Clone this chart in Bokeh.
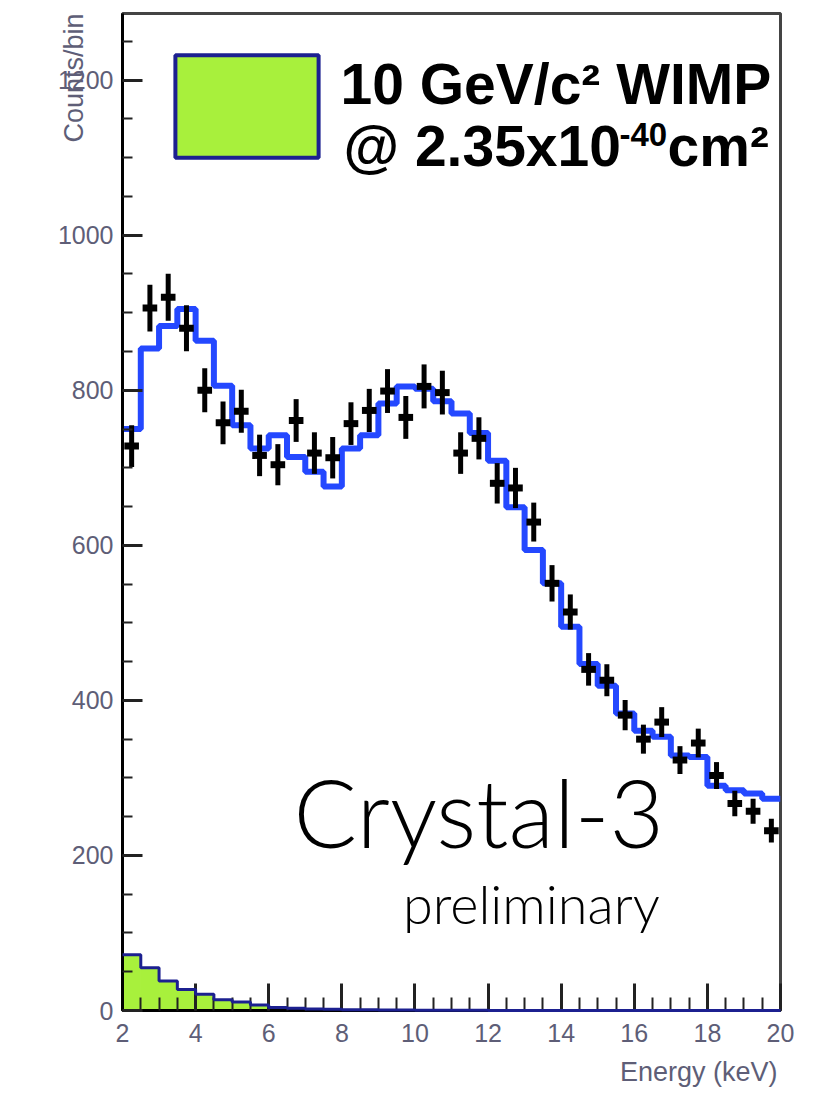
import numpy as np
from bokeh.plotting import figure
from bokeh.models import (Range1d, FixedTicker, Label, Legend, LegendItem,
                          ColumnDataSource, Title)
from bokeh.embed import file_html
from bokeh.resources import INLINE

# ---------------- data ----------------
e_lo, e_hi, bin_w = 2.0, 20.0, 0.5

# measured counts per 0.5 keV bin (2.0-20.0 keV)
counts = [728, 906, 920, 880, 800, 758, 773, 716, 704, 761, 719, 713,
          757, 774, 799, 765, 805, 797, 719, 738, 680, 674, 630, 551,
          514, 440, 426, 381, 350, 372, 323, 345, 303, 267, 257, 232]

# background model (blue histogram)
model = [750, 854, 883, 905, 864, 806, 755, 725, 742, 714, 695, 676,
         725, 742, 783, 805, 802, 786, 770, 745, 709, 649, 594, 551,
         495, 447, 419, 383, 361, 353, 329, 327, 290, 284, 280, 273]

# 10 GeV WIMP signal (green histogram)
wimp = [72, 55, 38, 27, 21, 14, 11, 7, 4, 3, 2, 1.5,
        1, 1, 0.5, 0.5, 0.3, 0.3, 0.2, 0.2, 0.1, 0.1, 0.1, 0.1,
        0, 0, 0, 0, 0, 0, 0, 0, 0, 0, 0, 0]

x_major = [2, 4, 6, 8, 10, 12, 14, 16, 18, 20]
y_major = [0, 200, 400, 600, 800, 1000, 1200]
y_top = 1286

legend_line1 = "10 GeV/c\u00b2 WIMP"
legend_line2 = ["@ 2.35x10", "-40", "cm\u00b2"]

# ---------------- derived ----------------
edges = np.arange(e_lo, e_hi + bin_w / 2, bin_w)
centers = edges[:-1] + bin_w / 2
cnt = np.array(counts, dtype=float)
err = np.sqrt(cnt)
model_ext = list(model) + [model[-1]]
wimp_ext = list(wimp) + [wimp[-1]]

GREEN = "#a8f03c"
NAVY = "#1c2090"
BLUE = "#2448ff"
GREY = "#5e5e77"

p = figure(width=805, height=1097,
           x_range=Range1d(e_lo, e_hi), y_range=Range1d(0, y_top),
           output_backend="svg", toolbar_location=None,
           min_border_left=122, min_border_right=25,
           min_border_top=13, min_border_bottom=87)

p.xgrid.visible = False
p.ygrid.visible = False
p.outline_line_color = "#444444"
p.outline_line_width = 3
p.background_fill_color = "white"
p.border_fill_color = "white"

# WIMP signal fill + outline
p.quad(left=edges[:-1], right=edges[1:], bottom=0, top=wimp,
       fill_color=GREEN, line_color=GREEN, line_width=1)
p.step(x=edges, y=wimp_ext, mode="after", line_color=NAVY, line_width=3, level="overlay")

# background model
p.step(x=edges, y=model_ext, mode="after", line_color=BLUE, line_width=6)

# data points with errors
p.segment(x0=centers, y0=cnt - err, x1=centers, y1=cnt + err,
          line_color="black", line_width=5)
p.segment(x0=centers - 0.2, y0=cnt, x1=centers + 0.2, y1=cnt,
          line_color="black", line_width=7)

# legend swatch (Bokeh insets the glyph by 10% of the glyph box)
leg_src = ColumnDataSource(dict(left=[0], right=[0], top=[0], bottom=[0]))
r_leg = p.quad(left="left", right="right", top="top", bottom="bottom", source=leg_src,
               fill_color=GREEN, line_color=NAVY, line_width=4)
legend = Legend(items=[LegendItem(label=" ", renderers=[r_leg])],
                location=(35, 840), glyph_width=179, glyph_height=128,
                label_text_font_size="10px", label_standoff=0,
                padding=0, margin=0, spacing=0,
                border_line_alpha=0, background_fill_alpha=0)
p.add_layout(legend)

# legend text (Helvetica-bold like), anchored at the frame's top-left corner
FONT_B = "Liberation Sans"
p.add_layout(Label(x=e_lo, y=y_top, x_offset=218, y_offset=-70, text=legend_line1,
                   text_baseline="middle", text_font=FONT_B, text_font_style="bold",
                   text_font_size="57px", text_color="black"))
p.add_layout(Label(x=e_lo, y=y_top, x_offset=221, y_offset=-132, text=legend_line2[0],
                   text_baseline="middle", text_font=FONT_B, text_font_style="bold",
                   text_font_size="57px", text_color="black"))
p.add_layout(Label(x=e_lo, y=y_top, x_offset=497, y_offset=-121, text=legend_line2[1],
                   text_baseline="middle", text_font=FONT_B, text_font_style="bold",
                   text_font_size="33px", text_color="black"))
p.add_layout(Label(x=e_lo, y=y_top, x_offset=545, y_offset=-132, text=legend_line2[2],
                   text_baseline="middle", text_font=FONT_B, text_font_style="bold",
                   text_font_size="57px", text_color="black"))

# axes
for ax in (p.xaxis[0], p.yaxis[0]):
    ax.axis_line_width = 3
    ax.axis_line_color = "black"
    ax.major_tick_out = 0
    ax.minor_tick_out = 0
    ax.major_tick_line_color = "#222222"
    ax.minor_tick_line_color = "#222222"
    ax.major_tick_line_width = 3
    ax.minor_tick_line_width = 2
    ax.major_label_text_font = "Liberation Sans"
    ax.major_label_text_font_size = "25px"
    ax.major_label_text_color = GREY

p.xaxis.ticker = FixedTicker(ticks=x_major, minor_ticks=list(edges))
p.yaxis.ticker = FixedTicker(ticks=y_major, minor_ticks=list(range(0, 1301, 50)))
p.xaxis.major_tick_in = 27
p.xaxis.minor_tick_in = 13
p.yaxis.major_tick_in = 20
p.yaxis.minor_tick_in = 10
p.xaxis.major_label_standoff = 13
p.yaxis.major_label_standoff = 9

# axis titles (ROOT style, aligned at the ends)
p.add_layout(Title(text="Counts/bin", align="right", standoff=-68,
                   text_font="Liberation Sans", text_font_size="27px",
                   text_font_style="normal", text_color=GREY), "left")
p.add_layout(Title(text="Energy (keV)", align="right", standoff=20, offset=3,
                   text_font="Liberation Sans", text_font_size="27px",
                   text_font_style="normal", text_color=GREY), "below")

# annotations
p.add_layout(Label(x=6.68, y=257, text="Crystal-3", text_align="left",
                   text_baseline="middle", text_font="Lato Light",
                   text_font_size="94px", text_color="black"))
p.add_layout(Label(x=9.67, y=138, text="preliminary", text_align="left",
                   text_baseline="middle", text_font="Lato Light",
                   text_font_size="54px", text_color="black"))

open("out.html", "w").write(file_html(p, INLINE))
